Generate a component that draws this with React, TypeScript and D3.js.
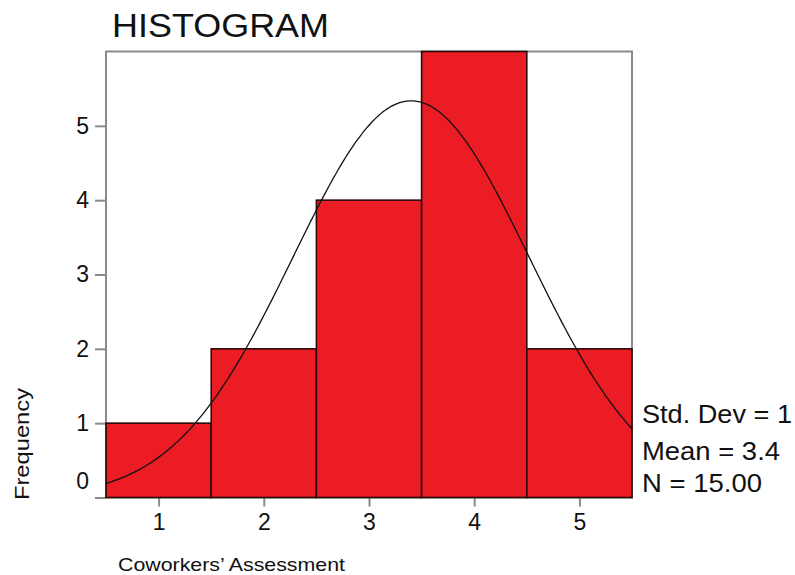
import React, { useRef, useEffect } from "react";
import * as d3 from "d3";

// histogram data
const binCenters = [1, 2, 3, 4, 5];
const frequencies = [1, 2, 4, 6, 2];
const yTicks = [0, 1, 2, 3, 4, 5];
const statLabels = ["Std. Dev = 1", "Mean = 3.4", "N = 15.00"];
const statWidths = [150, 138, 120];

const WIDTH = 795;
const HEIGHT = 575;
const FONT = "'Liberation Sans', Arial, sans-serif";

const App = () => {
  const svgRef = useRef(null);

  useEffect(() => {
    const svg = d3.select(svgRef.current);
    svg.selectAll("*").remove();

    const left = 106;
    const right = 632;
    const top = 51.5;
    const bottom = 497.5;

    const xScale = d3.scaleLinear().domain([0.5, 5.5]).range([left, right]);
    const yScale = d3.scaleLinear().domain([0, 6]).range([bottom, top]);

    // frame
    svg
      .append("rect")
      .attr("x", left)
      .attr("y", top)
      .attr("width", right - left)
      .attr("height", bottom - top)
      .attr("fill", "white")
      .attr("stroke", "#8a8a8a")
      .attr("stroke-width", 2);

    // y axis ticks + labels
    const yAxis = d3
      .axisLeft(yScale)
      .tickValues(yTicks)
      .tickFormat(d3.format("d"))
      .tickSize(11)
      .tickPadding(6);
    const yg = svg.append("g").attr("transform", `translate(${left},0)`).call(yAxis);
    yg.select(".domain").remove();
    yg.selectAll(".tick line").attr("stroke", "#8a8a8a").attr("stroke-width", 2);
    yg.selectAll(".tick text")
      .attr("font-family", FONT)
      .attr("font-size", 23)
      .attr("fill", "#111")
      .attr("dy", (d) => (d === 0 ? "-0.38em" : "0.32em"));

    // x axis ticks + labels
    const xAxis = d3
      .axisBottom(xScale)
      .tickValues(binCenters)
      .tickFormat(d3.format("d"))
      .tickSize(9)
      .tickPadding(7);
    const xg = svg.append("g").attr("transform", `translate(0,${bottom})`).call(xAxis);
    xg.select(".domain").remove();
    xg.selectAll(".tick line").attr("stroke", "#8a8a8a").attr("stroke-width", 2);
    xg.selectAll(".tick text")
      .attr("font-family", FONT)
      .attr("font-size", 23)
      .attr("fill", "#111");

    // bars
    svg
      .selectAll(".bar")
      .data(binCenters)
      .join("rect")
      .attr("class", "bar")
      .attr("x", (d) => xScale(d - 0.5))
      .attr("width", (d) => xScale(d + 0.5) - xScale(d - 0.5))
      .attr("y", (d, i) => yScale(frequencies[i]))
      .attr("height", (d, i) => bottom - yScale(frequencies[i]))
      .attr("fill", "#ec1c24")
      .attr("stroke", "#2a0a0a")
      .attr("stroke-width", 1.6);

    // normal curve from the histogram's mean and sd
    const n = d3.sum(frequencies);
    const mean = d3.sum(binCenters, (d, i) => d * frequencies[i]) / n;
    const variance =
      d3.sum(binCenters, (d, i) => frequencies[i] * (d - mean) ** 2) / (n - 1);
    const sd = Math.sqrt(variance);
    const pdf = (x) =>
      (n / (sd * Math.sqrt(2 * Math.PI))) * Math.exp(-((x - mean) ** 2) / (2 * sd * sd));
    const xs = d3.range(0.5, 5.5001, 0.02);
    const line = d3
      .line()
      .x((d) => xScale(d))
      .y((d) => yScale(pdf(d)))
      .curve(d3.curveBasis);
    svg
      .append("path")
      .datum(xs)
      .attr("d", line)
      .attr("fill", "none")
      .attr("stroke", "#111")
      .attr("stroke-width", 1.3);

    // title
    svg
      .append("text")
      .attr("x", 112)
      .attr("y", 37)
      .attr("font-family", FONT)
      .attr("font-size", 33)
      .attr("textLength", 217)
      .attr("lengthAdjust", "spacingAndGlyphs")
      .attr("fill", "#111")
      .text("HISTOGRAM");

    // stats on the right
    svg
      .selectAll(".stat")
      .data(statLabels)
      .join("text")
      .attr("class", "stat")
      .attr("x", 642)
      .attr("y", (d, i) => [423, 460, 492][i])
      .attr("font-family", FONT)
      .attr("font-size", 25)
      .attr("textLength", (d, i) => statWidths[i])
      .attr("lengthAdjust", "spacingAndGlyphs")
      .attr("fill", "#111")
      .text((d) => d);

    // axis titles
    svg
      .append("text")
      .attr("transform", "translate(29,444) rotate(-90)")
      .attr("text-anchor", "middle")
      .attr("font-family", FONT)
      .attr("font-size", 21)
      .attr("textLength", 112)
      .attr("lengthAdjust", "spacingAndGlyphs")
      .attr("fill", "#111")
      .text("Frequency");

    svg
      .append("text")
      .attr("x", 118)
      .attr("y", 571)
      .attr("font-family", FONT)
      .attr("font-size", 18.5)
      .attr("textLength", 227)
      .attr("lengthAdjust", "spacingAndGlyphs")
      .attr("fill", "#111")
      .text("Coworkers\u2019 Assessment");
  }, []);

  return (
    <svg
      ref={svgRef}
      width={WIDTH}
      height={HEIGHT}
      style={{ position: "absolute", left: 0, top: 0, background: "white" }}
    />
  );
};

export default App;
